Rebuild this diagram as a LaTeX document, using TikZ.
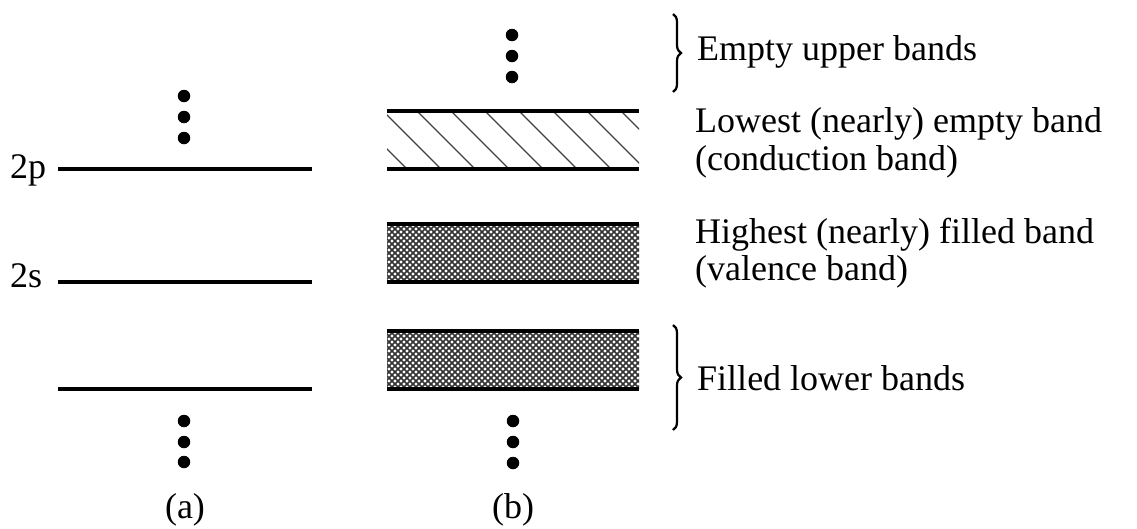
\documentclass[tikz,border=0pt]{standalone}
\usepackage{fontspec}
\setmainfont{Liberation Serif}
\usetikzlibrary{decorations.pathreplacing}

\tikzset{
    dot/.style={circle, fill, inner sep=0pt, minimum size=12.5pt},
    level/.style={line width=4pt},
    lbl/.style={font=\fontsize{36}{38}\selectfont, inner sep=0pt},
    brc/.style={decorate, decoration={brace, amplitude=8pt}, line width=2.2pt},
    hatch/.style={line width=1.3pt, black!75},
    xhatch/.style={line width=1.7pt, black!80},
}

\begin{document}
\begin{tikzpicture}[x=1pt, y=-1pt]
    \useasboundingbox (0,0) rectangle (1137,528);
    % Nodes
    \coordinate (a1l) at (58,169);
    \coordinate (a1r) at (312,169);
    \coordinate (a2l) at (58,282);
    \coordinate (a2r) at (312,282);
    \coordinate (a3l) at (58,389);
    \coordinate (a3r) at (312,389);
    \node[lbl, anchor=base west] (2p) at (10,178) {2p};
    \node[lbl, anchor=base west] (2s) at (10,287) {2s};
    \node[dot] (at1) at (184,96) {};
    \node[dot] (at2) at (184,117) {};
    \node[dot] (at3) at (184,138) {};
    \node[dot] (ab1) at (184,421) {};
    \node[dot] (ab2) at (184,442) {};
    \node[dot] (ab3) at (184,462) {};
    \node[lbl, anchor=base] (a) at (185,518) {(a)};

    \coordinate (c1l) at (387,111);
    \coordinate (c1r) at (639,111);
    \coordinate (c2l) at (387,169);
    \coordinate (c2r) at (639,169);
    \coordinate (v1l) at (387,224);
    \coordinate (v1r) at (639,224);
    \coordinate (v2l) at (387,282);
    \coordinate (v2r) at (639,282);
    \coordinate (f1l) at (387,331);
    \coordinate (f1r) at (639,331);
    \coordinate (f2l) at (387,389);
    \coordinate (f2r) at (639,389);
    \node[dot] (bt1) at (512,35) {};
    \node[dot] (bt2) at (512,56) {};
    \node[dot] (bt3) at (512,77) {};
    \node[dot] (bb1) at (513,421) {};
    \node[dot] (bb2) at (513,442) {};
    \node[dot] (bb3) at (513,463) {};
    \node[lbl, anchor=base] (b) at (513,518) {(b)};

    \coordinate (e1) at (673,14);
    \coordinate (e2) at (673,92);
    \coordinate (l1) at (673,325);
    \coordinate (l2) at (673,430);
    \node[lbl, anchor=base west] (empty) at (697,60) {Empty upper bands};
    \node[lbl, anchor=base west] (cond1) at (695,132) {Lowest (nearly) empty band};
    \node[lbl, anchor=base west] (cond2) at (695,170) {(conduction band)};
    \node[lbl, anchor=base west] (val1) at (695,243) {Highest (nearly) filled band};
    \node[lbl, anchor=base west] (val2) at (695,280) {(valence band)};
    \node[lbl, anchor=base west] (fill) at (697,390) {Filled lower bands};

    % Hatching
    \begin{scope}
        \clip (c1l) rectangle (c2r);
        \foreach \x in {349,383,...,660}
            \draw[hatch] (\x,111) -- ++(58,58);
    \end{scope}
    \begin{scope}
        \clip (v1l) rectangle (v2r);
        \foreach \x in {330,336,...,660} {
            \draw[xhatch] (\x,224) -- ++(58,58);
            \draw[xhatch] (\x,282) -- ++(58,-58);
        }
    \end{scope}
    \begin{scope}
        \clip (f1l) rectangle (f2r);
        \foreach \x in {330,336,...,660} {
            \draw[xhatch] (\x,331) -- ++(58,58);
            \draw[xhatch] (\x,389) -- ++(58,-58);
        }
    \end{scope}

    % Edges
    \draw[level] (a1l) -- (a1r);
    \draw[level] (a2l) -- (a2r);
    \draw[level] (a3l) -- (a3r);
    \draw[level] (c1l) -- (c1r);
    \draw[level] (c2l) -- (c2r);
    \draw[level] (v1l) -- (v1r);
    \draw[level] (v2l) -- (v2r);
    \draw[level] (f1l) -- (f1r);
    \draw[level] (f2l) -- (f2r);
    \draw[brc] (e1) -- (e2);
    \draw[brc] (l1) -- (l2);
\end{tikzpicture}
\end{document}
